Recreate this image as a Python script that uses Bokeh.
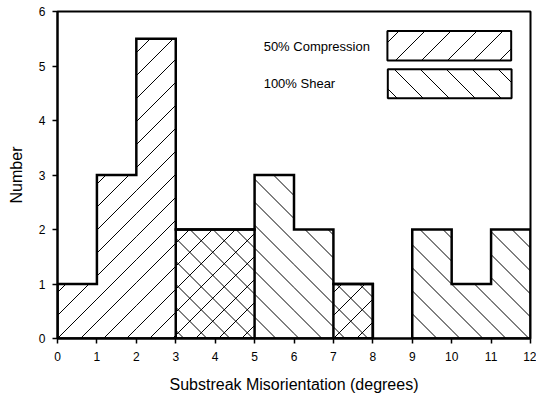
from bokeh.plotting import figure
from bokeh.models import FixedTicker, Range1d, Label
from bokeh.embed import file_html
from bokeh.resources import INLINE
import math

# Data
bin_edges = [0, 1, 2, 3, 4, 5, 6, 7, 8, 9, 10, 11, 12]
compression = [1, 3, 5.5, 2, 2, 0, 0, 1, 0, 0, 0, 0]
shear = [0, 0, 0, 2, 2, 3, 2, 1, 0, 2, 1, 2]
x_ticks = list(range(0, 13))
y_ticks = list(range(0, 7))
legend_labels = ["50% Compression", "100% Shear"]

FONT = "Liberation Sans"

W, H = 536, 396
BL, BR, BT, BB = 57, 6, 11, 58
XMAX, YMAX = 12, 6
SX = (W - BL - BR) / XMAX   # px per x unit
SY = (H - BT - BB) / YMAX   # px per y unit

p = figure(width=W, height=H, output_backend="svg", toolbar_location=None,
           x_range=Range1d(0, XMAX), y_range=Range1d(0, YMAX),
           min_border_left=BL, min_border_right=BR, min_border_top=BT, min_border_bottom=BB)
p.xgrid.visible = False
p.ygrid.visible = False
p.outline_line_color = "black"
p.outline_line_width = 2
p.background_fill_color = "white"
p.border_fill_color = "white"


def hatch_lines(rects, direction, spacing, phase=0.0):
    """45-degree (screen) hatch segments clipped to rectangles given in data units."""
    xs_out, ys_out = [], []
    for x0, x1, y0, y1 in rects:
        X0, X1, Y0, Y1 = x0 * SX, x1 * SX, y0 * SY, y1 * SY
        if direction == "fwd":      # Y = X - c
            cmin, cmax = X0 - Y1, X1 - Y0
        else:                        # Y = -X + c
            cmin, cmax = X0 + Y0, X1 + Y1
        k = math.ceil((cmin - phase) / spacing)
        while phase + k * spacing <= cmax:
            c = phase + k * spacing
            if direction == "fwd":
                a, b = max(X0, Y0 + c), min(X1, Y1 + c)
                pts = [(a, a - c), (b, b - c)]
            else:
                a, b = max(X0, c - Y1), min(X1, c - Y0)
                pts = [(a, c - a), (b, c - b)]
            if b > a:
                xs_out.append([pts[0][0] / SX, pts[1][0] / SX])
                ys_out.append([pts[0][1] / SY, pts[1][1] / SY])
            k += 1
    return xs_out, ys_out


def bar_rects(counts):
    return [(bin_edges[i], bin_edges[i + 1], 0, c) for i, c in enumerate(counts) if c > 0]


def runs(counts):
    out = []
    start = None
    for i, c in enumerate(counts):
        if c > 0 and start is None:
            start = i
        if c <= 0 and start is not None:
            out.append((start, i - 1))
            start = None
    if start is not None:
        out.append((start, len(counts) - 1))
    return out


def outline(counts, edges):
    xs_all, ys_all = [], []
    for i, j in runs(counts):
        xs, ys = [edges[i]], [0]
        for k in range(i, j + 1):
            xs += [edges[k], edges[k + 1]]
            ys += [counts[k], counts[k]]
        xs.append(edges[j + 1])
        ys.append(0)
        xs_all.append(xs)
        ys_all.append(ys)
    return xs_all, ys_all


SP = 23
hx, hy = hatch_lines(bar_rects(compression), "fwd", SP, 0.0)
p.multi_line(hx, hy, line_color="black", line_width=1)
hx, hy = hatch_lines(bar_rects(shear), "back", SP, SP / 2)
p.multi_line(hx, hy, line_color="black", line_width=1)

for counts in (compression, shear):
    xs, ys = outline(counts, bin_edges)
    p.patches(xs, ys, fill_color=None, line_color="black", line_width=2.5, line_join="miter")

# Legend (label left, hatched box right)
legend_boxes = [(8.37, 11.51, 5.10, 5.64), (8.38, 11.52, 4.41, 4.94)]
legend_text_pos = [(5.23, 5.36), (5.23, 4.68)]
for (box, (tx, ty), text, direction) in zip(legend_boxes, legend_text_pos, legend_labels,
                                            ["fwd", "back"]):
    l, r, b, t = box
    p.quad(left=[l], right=[r], bottom=[b], top=[t], fill_color="white",
           line_color="black", line_width=2)
    hx, hy = hatch_lines([box], direction, 26, 8)
    p.multi_line(hx, hy, line_color="black", line_width=1)
    p.add_layout(Label(x=tx, y=ty, text=text, text_font=FONT, text_font_size="13px",
                       text_baseline="middle", text_color="black"))

for ax in (p.xaxis, p.yaxis):
    ax.axis_line_color = "black"
    ax.axis_line_width = 2
    ax.major_tick_line_color = "black"
    ax.major_tick_line_width = 1.5
    ax.major_tick_out = 5
    ax.major_tick_in = 0
    ax.minor_tick_line_color = None
    ax.major_label_text_font = FONT
    ax.major_label_text_font_size = "12px"
    ax.major_label_text_color = "black"
    ax.axis_label_text_font = FONT
    ax.axis_label_text_font_size = "16px"
    ax.axis_label_text_font_style = "normal"
    ax.axis_label_text_color = "black"

p.xaxis.ticker = FixedTicker(ticks=x_ticks)
p.yaxis.ticker = FixedTicker(ticks=y_ticks)
p.xaxis.axis_label = "Substreak Misorientation (degrees)"
p.yaxis.axis_label = "Number"
p.xaxis.major_label_standoff = 8
p.yaxis.major_label_standoff = 7
p.xaxis.axis_label_standoff = 12
p.yaxis.axis_label_standoff = 11

open("out.html", "w").write(file_html(p, INLINE))
